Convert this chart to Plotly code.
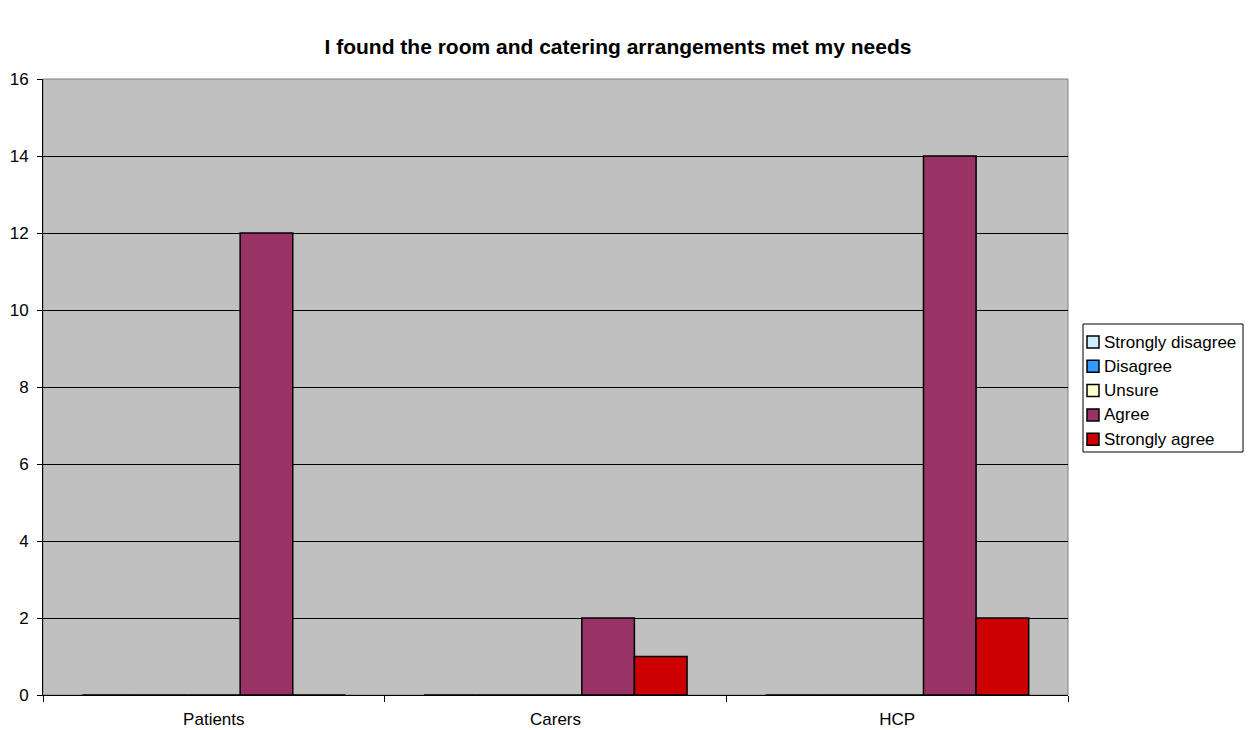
import plotly.graph_objects as go

categories = ["Patients", "Carers", "HCP"]
series_names = ["Strongly disagree", "Disagree", "Unsure", "Agree", "Strongly agree"]
strongly_disagree = [0, 0, 0]
disagree = [0, 0, 0]
unsure = [0, 0, 0]
agree = [12, 2, 14]
strongly_agree = [0, 1, 2]
y_ticks = [0, 2, 4, 6, 8, 10, 12, 14, 16]

colors = ["#CCECFF", "#3399FF", "#FFFFCC", "#993366", "#CC0000"]
values = [strongly_disagree, disagree, unsure, agree, strongly_agree]

W, H = 1254, 730
ML, MR, MT, MB = 43, 186, 79, 35
PW, PH = W - ML - MR, H - MT - MB

def px_x(px):
    return (px - ML) / PW

def px_y(py):
    return (H - MB - py) / PH

fig = go.Figure()
for name, vals, col in zip(series_names, values, colors):
    fig.add_trace(go.Bar(
        x=categories, y=vals, name=name,
        marker=dict(color=col, line=dict(color="#000000", width=1.5)),
    ))

font = "Liberation Sans, Arial, sans-serif"
fig.update_layout(
    width=W, height=H,
    barmode="group", bargap=0.23, bargroupgap=0,
    paper_bgcolor="#FFFFFF", plot_bgcolor="#C0C0C0",
    margin=dict(l=ML, r=MR, t=MT, b=MB),
    font=dict(family=font, size=16, color="#000000"),
    title=dict(text="<b>I found the room and catering arrangements met my needs</b>",
               x=618 / W, xref="container", xanchor="center",
               y=1 - 47 / H, yref="container", yanchor="middle",
               font=dict(family=font, size=21, color="#000000")),
    showlegend=False,
)
fig.update_xaxes(
    showgrid=False, showline=True, linecolor="#000000", linewidth=1,
    ticks="outside", tickson="boundaries", ticklen=6, tickcolor="#000000",
    tickfont=dict(family=font, size=17), ticklabelstandoff=9, automargin=False,
)
fig.update_yaxes(
    range=[0, 16], tickvals=y_ticks, showgrid=True, gridcolor="#000000", gridwidth=1,
    showline=True, linecolor="#000000", linewidth=1, ticks="outside", ticklen=5,
    tickcolor="#000000", tickfont=dict(family=font, size=17), zeroline=False,
    ticklabelstandoff=5, automargin=False,
)
fig.add_shape(type="rect", xref="paper", yref="paper", x0=0, x1=1, y0=0, y1=1,
              line=dict(color="#808080", width=1), layer="below")

# legend box with swatches and labels
fig.add_shape(type="rect", xref="paper", yref="paper",
              x0=px_x(1083), x1=px_x(1243), y0=px_y(452), y1=px_y(324),
              line=dict(color="#000000", width=1), fillcolor="#FFFFFF")
for i, (name, col) in enumerate(zip(series_names, colors)):
    cy = 342 + i * 24.3
    fig.add_shape(type="rect", xref="paper", yref="paper",
                  x0=px_x(1087), x1=px_x(1099), y0=px_y(cy + 6), y1=px_y(cy - 6),
                  line=dict(color="#000000", width=1.5), fillcolor=col)
    fig.add_annotation(x=px_x(1102), y=px_y(cy), xref="paper", yref="paper",
                       text=name, showarrow=False, xanchor="left", yanchor="middle",
                       font=dict(family=font, size=17, color="#000000"))

fig.write_html("out.html")
